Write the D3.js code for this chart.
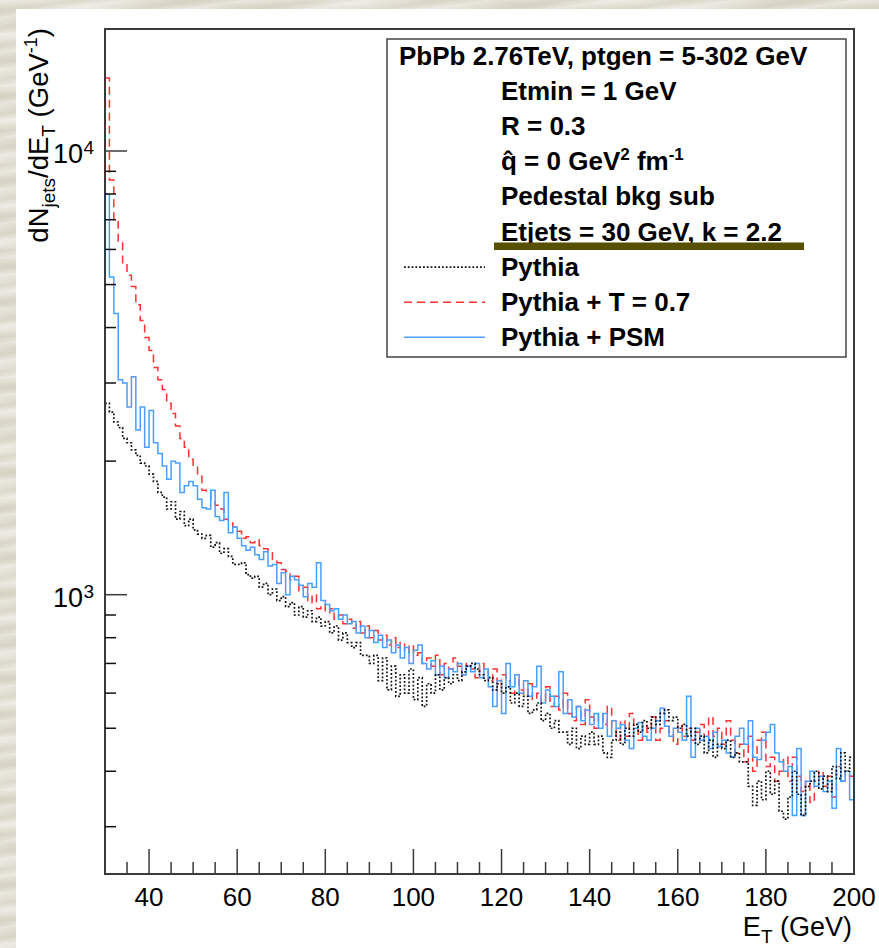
<!DOCTYPE html>
<html>
<head>
<meta charset="utf-8">
<script src="https://cdn.jsdelivr.net/npm/d3@7"></script>
<style>
  html, body { margin: 0; padding: 0; }
  body {
    width: 879px; height: 948px; overflow: hidden;
    background-color: #dfdcd0;
    background-image:
      repeating-linear-gradient(172deg, rgba(255,255,255,0.35) 0px, rgba(255,255,255,0.0) 6px, rgba(200,196,178,0.35) 11px, rgba(255,255,255,0.2) 17px),
      repeating-linear-gradient(8deg, rgba(240,238,230,0.5) 0px, rgba(210,206,190,0.3) 23px, rgba(240,238,230,0.5) 41px);
  }
  svg { display: block; }
  text { font-family: "Liberation Sans", Arial, Helvetica, sans-serif; }
</style>
</head>
<body>
<script>
// Jet E_T spectra, 1 GeV bins from 30 to 200 GeV (value = lower bin edge)
const binLow = d3.range(30, 200, 1);
const binWidth = 1;

// Pythia
const pythia = [
  2700, 2580, 2450, 2380, 2250, 2200, 2120, 2060, 1980, 1950,
  1870, 1800, 1700, 1660, 1560, 1620, 1480, 1540, 1430, 1480,
  1400, 1370, 1340, 1360, 1280, 1310, 1240, 1270, 1220, 1170,
  1170, 1180, 1110, 1090, 1100, 1040, 1060, 1000, 1030, 970,
  990, 940, 960, 900, 940, 890, 920, 870, 890, 850,
  870, 820, 850, 790, 820, 780, 760, 780, 730, 730,
  700, 730, 640, 720, 610, 690, 590, 660, 600, 680,
  580, 650, 560, 630, 600, 660, 610, 650, 630, 660,
  640, 670, 690, 700, 680, 660, 640, 650, 610, 630,
  600, 620, 570, 600, 560, 590, 540, 550, 570, 520,
  540, 500, 520, 490, 490, 460, 500, 450, 480, 460,
  490, 460, 480, 440, 430, 470, 490, 460, 500, 480,
  510, 490, 520, 500, 530, 510, 540, 550, 520, 530,
  500, 510, 480, 500, 460, 480, 440, 470, 430, 460,
  450, 470, 430, 440, 420, 420, 370, 335, 380, 345,
  400, 355, 380, 325, 312, 350, 400, 355, 318, 370,
  380, 400, 365, 390, 360, 410, 385, 440, 400, 430
];

// Pythia + T = 0.7
const pythiaT = [
  14600, 8600, 7000, 6200, 5600, 5250, 4950, 4500, 4150, 3800,
  3550, 3250, 3050, 2900, 2700, 2560, 2400, 2250, 2150, 2020,
  1950, 1850, 1720, 1700, 1620, 1590, 1560, 1480, 1460, 1420,
  1390, 1340, 1350, 1310, 1330, 1290, 1270, 1250, 1200, 1180,
  1140, 1130, 1080, 1100, 1020, 1040, 960, 1000, 930, 950,
  910, 930, 880, 900, 860, 880, 840, 870, 820, 850,
  800, 830, 790, 810, 770, 800, 760, 780, 740, 770,
  730, 740, 700, 720, 690, 730, 660, 700, 680, 720,
  690, 660, 700, 680, 650, 700, 670, 640, 680, 620,
  660, 640, 600, 650, 610, 590, 630, 580, 600, 570,
  620, 560, 590, 550, 600, 540, 520, 560, 510, 580,
  530, 500, 540, 510, 560, 500, 470, 520, 480, 540,
  500, 470, 510, 490, 530, 470, 500, 520, 490, 460,
  510, 480, 500, 470, 490, 510, 470, 530, 480, 500,
  460, 520, 470, 440, 460, 420, 480, 400, 470, 490,
  410, 430, 380, 400, 430, 380, 430, 390, 360, 380,
  340, 380, 400, 370, 390, 350, 410, 380, 400, 390
];

// Pythia + PSM
const pythiaPSM = [
  8000, 5200, 4300, 3050, 3000, 2650, 3100, 2350, 2650, 2150,
  2600, 2200, 2080, 1950, 1820, 2000, 1980, 1700, 1760, 1800,
  1760, 1640, 1570, 1560, 1720, 1500, 1470, 1700, 1380, 1420,
  1340, 1290, 1260, 1280, 1230, 1200, 1250, 1160, 1170, 1060,
  1120, 1000, 1100, 1080, 1050, 990, 1060, 1040, 1180, 970,
  950, 920, 930, 880, 900, 860, 870, 820, 850, 800,
  830, 780, 810, 760, 790, 740, 770, 720, 760, 700,
  750, 770, 700, 680, 710, 660, 690, 650, 680, 670,
  700, 660, 690, 670, 700, 650, 680, 620, 560, 640,
  540, 700, 620, 660, 600, 640, 590, 620, 690, 570,
  610, 590, 560, 670, 540, 580, 530, 560, 520, 550,
  510, 540, 500, 540, 480, 520, 500, 510, 470, 450,
  500, 515, 480, 470, 500, 520, 555, 505, 480, 500,
  490, 470, 590, 430, 500, 470, 480, 450, 490, 455,
  470, 440, 430, 480, 500, 460, 520, 430, 425, 470,
  490, 510, 440, 420, 400, 410, 318, 450, 318, 380,
  400, 370, 390, 360, 380, 330, 450, 380, 400, 345
];

const xTickLabels = ["40", "60", "80", "100", "120", "140", "160", "180", "200"];
const yMajorTicks = [1000, 10000];
const yMinorTicks = [300, 400, 500, 600, 700, 800, 900, 2000, 3000, 4000, 5000, 6000, 7000, 8000, 9000];

const legendHeader = "PbPb 2.76TeV, ptgen = 5-302 GeV";
const legendInfo = ["Etmin = 1 GeV", "R = 0.3", "QHAT", "Pedestal bkg sub", "Etjets = 30 GeV, k = 2.2"];
const seriesNames = ["Pythia", "Pythia + T = 0.7", "Pythia + PSM"];

const W = 879, H = 948;
const frame = { left: 105, right: 854, top: 29, bottom: 874 };

const svg = d3.select("body").append("svg").attr("width", W).attr("height", H);

// white pad
svg.append("rect").attr("x", 16).attr("y", 9).attr("width", W - 16).attr("height", H - 9).attr("fill", "#ffffff");

const x = d3.scaleLinear().domain([30, 200]).range([frame.left, frame.right]);
const y = d3.scaleLog().domain([234.7, 18834]).range([frame.bottom, frame.top]);

const axisColor = "#3a3a3a";

// histograms
const clipId = "plotClip";
svg.append("clipPath").attr("id", clipId).append("rect")
  .attr("x", frame.left).attr("y", frame.top)
  .attr("width", frame.right - frame.left).attr("height", frame.bottom - frame.top);

function stepPoints(vals) {
  const pts = vals.map((v, i) => [binLow[i], v]);
  pts.push([binLow[binLow.length - 1] + binWidth, vals[vals.length - 1]]);
  return pts;
}
const stepLine = d3.line().x(d => x(d[0])).y(d => y(d[1])).curve(d3.curveStepAfter);

const series = [
  { vals: pythia, color: "#111111", width: 1.7, dash: "1.8,2" },
  { vals: pythiaT, color: "#ff3030", width: 1.5, dash: "8,5" },
  { vals: pythiaPSM, color: "#4a9eff", width: 1.5, dash: null }
];

const gHist = svg.append("g").attr("clip-path", `url(#${clipId})`);
// draw order: red, blue, then black dots on top
[1, 2, 0].forEach(k => {
  const s = series[k];
  gHist.append("path")
    .attr("d", stepLine(stepPoints(s.vals)))
    .attr("fill", "none")
    .attr("stroke", s.color)
    .attr("stroke-width", s.width)
    .attr("stroke-dasharray", s.dash);
});

// frame
svg.append("rect")
  .attr("x", frame.left).attr("y", frame.top)
  .attr("width", frame.right - frame.left).attr("height", frame.bottom - frame.top)
  .attr("fill", "none").attr("stroke", axisColor).attr("stroke-width", 2);

// x axis ticks
const gx = svg.append("g");
d3.range(35, 201, 5).forEach(v => {
  const major = v % 20 === 0;
  gx.append("line")
    .attr("x1", x(v)).attr("x2", x(v))
    .attr("y1", frame.bottom).attr("y2", frame.bottom - (major ? 25 : 12))
    .attr("stroke", axisColor).attr("stroke-width", 1.5);
});
xTickLabels.forEach(t => {
  gx.append("text")
    .attr("x", x(+t)).attr("y", 906)
    .attr("text-anchor", "middle")
    .attr("font-size", 26).attr("fill", "#000")
    .text(t);
});

// y axis ticks
const gy = svg.append("g");
yMajorTicks.forEach(v => {
  gy.append("line").attr("x1", frame.left).attr("x2", frame.left + 22)
    .attr("y1", y(v)).attr("y2", y(v)).attr("stroke", axisColor).attr("stroke-width", 1.5);
  const exp = Math.round(Math.log10(v));
  gy.append("text").attr("x", 83).attr("y", y(v) + 12)
    .attr("text-anchor", "end").attr("font-size", 27).text("10");
  gy.append("text").attr("x", 83.5).attr("y", y(v) + 3)
    .attr("text-anchor", "start").attr("font-size", 19).text(String(exp));
});
yMinorTicks.forEach(v => {
  gy.append("line").attr("x1", frame.left).attr("x2", frame.left + 11)
    .attr("y1", y(v)).attr("y2", y(v)).attr("stroke", "#111").attr("stroke-width", 1.5);
});

// axis titles
const yt = svg.append("text")
  .attr("transform", "translate(48,28) rotate(-90)")
  .attr("text-anchor", "end").attr("font-size", 27.5);
yt.append("tspan").text("dN");
yt.append("tspan").attr("dy", 7).attr("font-size", 19).text("jets");
yt.append("tspan").attr("dy", -7).text("/dE");
yt.append("tspan").attr("dy", 7).attr("font-size", 19).text("T");
yt.append("tspan").attr("dy", -7).text(" (GeV");
yt.append("tspan").attr("dy", -11).attr("font-size", 18).text("-1");
yt.append("tspan").attr("dy", 11).text(")");

const xt = svg.append("text")
  .attr("x", 852).attr("y", 936)
  .attr("text-anchor", "end").attr("font-size", 27);
xt.append("tspan").text("E");
xt.append("tspan").attr("dy", 7).attr("font-size", 19).text("T");
xt.append("tspan").attr("dy", -7).text(" (GeV)");

// legend
const lg = svg.append("g");
lg.append("rect").attr("x", 387).attr("y", 39).attr("width", 459).attr("height", 318)
  .attr("fill", "#ffffff").attr("stroke", "#444").attr("stroke-width", 1.5);

const lineH = 35.1, base0 = 65, textX = 501, legFont = 26;
lg.append("text").attr("x", 399).attr("y", base0)
  .attr("font-size", legFont).attr("font-weight", "bold").text(legendHeader);

legendInfo.forEach((t, i) => {
  const by = base0 + lineH * (i + 1);
  const tx = lg.append("text").attr("x", textX).attr("y", by)
    .attr("font-size", legFont).attr("font-weight", "bold");
  if (t === "QHAT") {
    tx.append("tspan").text("q\u0302 = 0 GeV");
    tx.append("tspan").attr("dy", -10).attr("font-size", 17).text("2");
    tx.append("tspan").attr("dy", 10).text(" fm");
    tx.append("tspan").attr("dy", -10).attr("font-size", 17).text("-1");
  } else {
    tx.text(t);
  }
});

// olive separator under the last info line
lg.append("rect").attr("x", 494).attr("y", 242.5).attr("width", 310).attr("height", 7.5)
  .attr("fill", "#575000");

seriesNames.forEach((name, i) => {
  const by = base0 + lineH * (i + 6);
  const s = series[i];
  lg.append("line").attr("x1", 404).attr("x2", 485)
    .attr("y1", by - 8.5).attr("y2", by - 8.5)
    .attr("stroke", s.color).attr("stroke-width", s.width)
    .attr("stroke-dasharray", s.dash);
  lg.append("text").attr("x", textX).attr("y", by)
    .attr("font-size", legFont).attr("font-weight", "bold").text(name);
});
</script>
</body>
</html>
